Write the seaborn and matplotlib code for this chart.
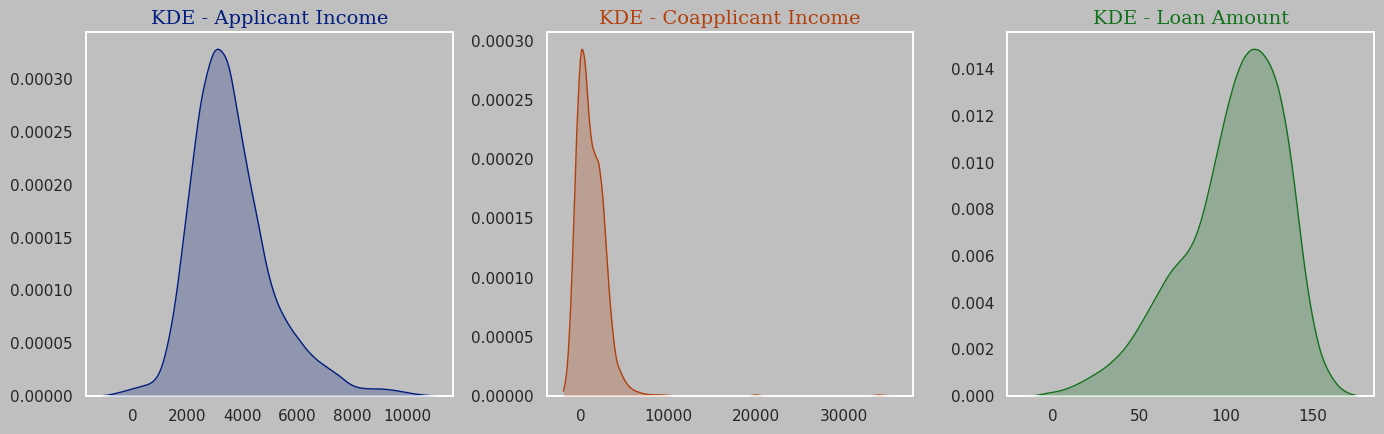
import matplotlib
matplotlib.use('Agg')
import matplotlib.pyplot as plt
import numpy as np
import seaborn as sns

# ── Data: density heights ──
# Applicant income, every 500 (density x 1e-5)
applicant_x = [-500, 0, 500, 1000, 1500, 2000, 2500, 3000, 3500, 4000, 4500,
               5000, 5500, 6000, 6500, 7000, 7500, 8000, 8500, 9000, 9500,
               10000, 10500]
applicant_density = [0.3, 0.7, 1.0, 1.5, 7.15, 18.5, 29.5, 34.4, 33.2, 24.3, 17.9,
                     10.6, 7.55, 5.65, 3.9, 2.9, 2.05, 0.86, 0.67, 0.7, 0.58,
                     0.3, 0.1]

# Coapplicant income, every 500 plus three small outlier bumps (density x 1e-5)
coapplicant_x = [-2000, -1500, -1000, -500, 0, 500, 1000, 1500, 2000, 2500,
                 3000, 3500, 4000, 4500, 5000, 5500, 6000, 6500, 7000, 7500,
                 8000, 8500, 9000, 9500, 10000,
                 19500, 20000, 20500, 33500, 34000, 34500]
coapplicant_density = [0.15, 2.3, 10.9, 24.0, 32.1, 29.9, 23.1, 21.3, 21.1, 18.0,
                       11.3, 6.4, 3.0, 2.15, 1.3, 0.8, 0.5, 0.35, 0.22, 0.15,
                       0.1, 0.1, 0.1, 0.08, 0.05,
                       0.05, 0.1, 0.05, 0.05, 0.1, 0.05]

# Loan amount, every 5 (density x 1e-3)
loan_x = [-5, 0, 5, 10, 15, 20, 25, 30, 35, 40, 45, 50, 55, 60, 65, 70, 75, 80,
          85, 90, 95, 100, 105, 110, 115, 120, 125, 130, 135, 140, 145, 150,
          155, 160, 165, 170]
loan_density = [0.1, 0.15, 0.22, 0.35, 0.52, 0.72, 0.95, 1.17, 1.5, 1.85, 2.35,
                2.95, 3.6, 4.25, 4.95, 5.5, 5.85, 6.3, 7.2, 8.7, 10.4, 12.1,
                13.5, 14.5, 14.9, 14.8, 14.3, 13.4, 11.6, 8.9, 5.5, 3.2, 1.6,
                0.9, 0.35, 0.12]

titles = ['KDE - Applicant Income', 'KDE - Coapplicant Income', 'KDE - Loan Amount']
colors = ['#001c7f', '#b1400d', '#12711c']

sns.set_theme(style='dark', rc={
    'axes.facecolor': '#bfbfbf',
    'figure.facecolor': '#bfbfbf',
    'savefig.facecolor': '#bfbfbf',
    'axes.edgecolor': 'white',
    'axes.linewidth': 1.4,
})


def bw_factor(x, w, bw):
    # scipy factor so that the kernel width equals bw in data units
    return bw / np.sqrt(np.cov(np.asarray(x, float), aweights=np.asarray(w, float)))


panels = [
    (applicant_x, applicant_density, 300, (-1090, 11050)),
    (coapplicant_x, coapplicant_density, 300, (-2036, 36040)),
    (loan_x, loan_density, 3.4, (-16.6, 175.8)),
]

fig, axes = plt.subplots(1, 3, figsize=(13.84, 4.34), dpi=100)
fig.subplots_adjust(left=0.0621, right=0.9928, top=0.9263, bottom=0.0876, wspace=0.256)

for ax, (x, w, bw, clip), title, c in zip(axes, panels, titles, colors):
    kde_kws = dict(x=x, weights=w, ax=ax, color=c, cut=20, clip=clip, gridsize=600,
                   bw_method=bw_factor(x, w, bw))
    # curve under the spines, shading (no outline) above them:
    # near-zero tails hide behind the bottom spine, which gets a light tint
    sns.kdeplot(fill=False, linewidth=1, **kde_kws)
    sns.kdeplot(fill=True, linewidth=0, **kde_kws)
    ax.collections[-1].set_zorder(3)
    ax.set_title(title, fontsize=14, family='serif', color=c)
    ax.set_xlabel('')
    ax.set_ylabel('')
    ax.tick_params(labelsize=11, colors='#262626')
    for s in ax.spines.values():
        s.set_visible(True)
        s.set_color('white')

fig.savefig('out.png', dpi=100)
plt.close()
